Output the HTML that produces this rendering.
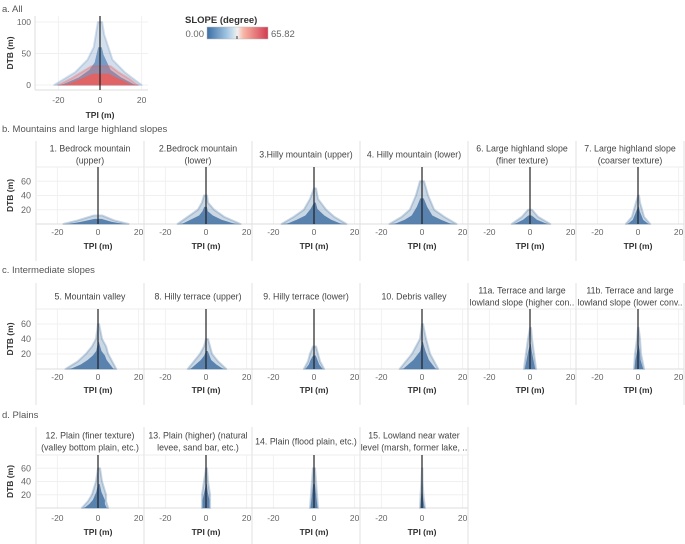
<!DOCTYPE html>
<html><head><meta charset="utf-8"><style>
html,body{margin:0;padding:0;background:#fff;}
svg{display:block;font-family:"Liberation Sans","DejaVu Sans",sans-serif;}
</style></head><body>
<svg id="chart" width="685" height="544" viewBox="0 0 685 544" xmlns="http://www.w3.org/2000/svg">
<defs>
<linearGradient id="slopeGrad" x1="0" x2="1" y1="0" y2="0">
<stop offset="0" stop-color="#3a6ea5"/><stop offset="0.35" stop-color="#a9cbe6"/><stop offset="0.5" stop-color="#f0f0f0"/><stop offset="0.6" stop-color="#f8b4a4"/><stop offset="1" stop-color="#d23c50"/>
</linearGradient>
</defs>
<text x="2" y="12" font-size="9.5" fill="#555">a. All</text>
<text x="2" y="132" font-size="9.5" fill="#555">b. Mountains and large highland slopes</text>
<text x="2" y="273" font-size="9.5" fill="#555">c. Intermediate slopes</text>
<text x="2" y="418" font-size="9.5" fill="#555">d. Plains</text>
<g>
<text x="185" y="23" font-size="9.5" font-weight="bold" fill="#333">SLOPE (degree)</text>
<text x="204" y="37" font-size="9.5" fill="#666" text-anchor="end">0.00</text>
<rect x="207" y="27" width="61" height="12" fill="url(#slopeGrad)" stroke="#bbb" stroke-width="0.5"/>
<line x1="237" y1="36" x2="237" y2="39" stroke="#333" stroke-width="1"/>
<text x="271" y="37" font-size="9.5" fill="#666">65.82</text>
</g>
<g id="plots"></g>
</svg>
<script>
// Envelope data: DTB levels and TPI extents (left/right) per panel
const levelsB1=[0,5,12], leftB1=[-17,-10,-2], rightB1=[15,8,2];
const levelsB2=[0,10,20,30,40], leftB2=[-14,-9,-4,-2,-1], rightB2=[17,9,4,1,0.5];
const levelsB3=[0,10,20,35,50], leftB3=[-16,-10,-5,-2,0], rightB3=[16,10,6,2,1];
const levelsB4=[0,10,20,40,60], leftB4=[-16,-10,-6,-3,-1], rightB4=[17,11,6,3,1];
const levelsB6=[0,10,20], leftB6=[-9,-4,-1], rightB6=[10,4,1];
const levelsB7=[0,10,30,40], leftB7=[-6,-3,-1,0], rightB7=[6,3,1,0.5];
const levelsC5=[0,10,20,30,40,60], leftC5=[-16,-10,-6,-3,-1,0], rightC5=[9,7,5,4,2,0.5];
const levelsC8=[0,10,20,30,40], leftC8=[-9,-6,-3,-1,0], rightC8=[10,6,3,2,1];
const levelsC9=[0,10,20,30], leftC9=[-5,-3,-2,-0.5], rightC9=[5,3,2,1];
const levelsC10=[0,10,20,30,40,60], leftC10=[-11,-8,-5,-3,-1,0], rightC10=[8,6,4,3,2,0.5];
const levelsC11a=[0,20,40,55], leftC11a=[-3,-2,-1,0], rightC11a=[3,2,1,0.5];
const levelsC11b=[0,20,40,55], leftC11b=[-2,-1.5,-0.5,0], rightC11b=[3,1.5,1,0.3];
const levelsD12=[0,10,20,40,60], leftD12=[-8,-5,-3,-1,0], rightD12=[5,4,4,2,1];
const levelsD13=[0,20,40,60], leftD13=[-2,-2,-1,0], rightD13=[2,2,1,0.5];
const levelsD14=[0,20,40,60], leftD14=[-2,-1.5,-1,-0.5], rightD14=[2,1.5,1,0.5];
const levelsD15=[0,20,40,60], leftD15=[-1,-0.7,-0.3,0], rightD15=[1.5,0.7,0.3,0.2];
// Panel a: all data, blue (low slope) and red (high slope) envelopes
const levelsAllBlue=[0,20,40,60,80,100], leftAllBlue=[-22,-12,-6,-3,-2,-1], rightAllBlue=[20,12,6,4,2,1];
const levelsAllRed=[0,10,20,30], leftAllRed=[-20,-14,-9,-4], rightAllRed=[18,14,9,5];
const xTicks=[-20,0,20], yTicksRow=[20,40,60], yTicksAll=[0,50,100];
const titlesB=[["1. Bedrock mountain","(upper)"],["2.Bedrock mountain","(lower)"],["3.Hilly mountain (upper)"],["4. Hilly mountain (lower)"],["6. Large highland slope","(finer texture)"],["7. Large highland slope","(coarser texture)"]];
const titlesC=[["5. Mountain valley"],["8. Hilly terrace (upper)"],["9. Hilly terrace (lower)"],["10. Debris valley"],["11a. Terrace and large","lowland slope (higher con.."],["11b. Terrace and large","lowland slope (lower conv.."]];
const titlesD=[["12. Plain (finer texture)","(valley bottom plain, etc.)"],["13. Plain (higher) (natural","levee, sand bar, etc.)"],["14. Plain (flood plain, etc.)"],["15. Lowland near water","level (marsh, former lake, .."]];
const dataB=[[levelsB1,leftB1,rightB1],[levelsB2,leftB2,rightB2],[levelsB3,leftB3,rightB3],[levelsB4,leftB4,rightB4],[levelsB6,leftB6,rightB6],[levelsB7,leftB7,rightB7]];
const dataC=[[levelsC5,leftC5,rightC5],[levelsC8,leftC8,rightC8],[levelsC9,leftC9,rightC9],[levelsC10,leftC10,rightC10],[levelsC11a,leftC11a,rightC11a],[levelsC11b,leftC11b,rightC11b]];
const dataD=[[levelsD12,leftD12,rightD12],[levelsD13,leftD13,rightD13],[levelsD14,leftD14,rightD14],[levelsD15,leftD15,rightD15]];

const NS="http://www.w3.org/2000/svg";
const root=document.getElementById('plots');
function mk(tag,attrs,parent,text){const e=document.createElementNS(NS,tag);for(const k in attrs)e.setAttribute(k,attrs[k]);if(text!==undefined)e.textContent=text;(parent||root).appendChild(e);return e;}
function envPath(lv,L,R,sx,sy){let p=[];for(let i=0;i<lv.length;i++)p.push(sx(L[i])+','+sy(lv[i]));for(let i=lv.length-1;i>=0;i--)p.push(sx(R[i])+','+sy(lv[i]));return 'M'+p.join('L')+'Z';}
function drawEnv(g,lv,L,R,sx,sy,color,name){
  const o=mk('path',{d:envPath(lv,L,R,sx,sy),fill:color,'fill-opacity':0.3,stroke:color,'stroke-opacity':0.3,'stroke-width':2,'stroke-linejoin':'round'},g);
  
  
  const Li=L.map(v=>v*0.85),Ri=R.map(v=>v*0.85),lvi=lv.map(v=>v*0.6);
  const c=mk('path',{d:envPath(lvi,Li,Ri,sx,sy),fill:color,'fill-opacity':0.9},g);
  
  
}
function row(titles,data,hTop,hBot,pTop,pBot,tickY,labY,rowName){
  const sy=v=>pBot-(v/80)*(pBot-pTop);
  const n=titles.length;
  const yt=mk('text',{x:0,y:0,'font-size':8.5,'font-weight':'bold',fill:'#333','text-anchor':'middle',transform:`translate(13,${(pTop+pBot)/2}) rotate(-90)`},root,'DTB (m)');
  
  
  yTicksRow.forEach(t=>{const e=mk('text',{x:31,y:sy(t)+3,'font-size':9,fill:'#666','text-anchor':'end'},root,String(t));
    
    });
  for(let i=0;i<n;i++){
    const x0=36+i*108,x1=x0+108;
    const sx=v=>x0+62+v*2.03;
    const g=mk('g',{});
    
    
    mk('line',{x1:x0,y1:hTop,x2:x0,y2:labY+12,stroke:'#e0e0e0','stroke-width':1},g);
    mk('line',{x1:x1,y1:hTop,x2:x1,y2:labY+12,stroke:'#e0e0e0','stroke-width':1},g);
    mk('line',{x1:x0,y1:hBot,x2:x1,y2:hBot,stroke:'#ececec','stroke-width':1},g);
    yTicksRow.forEach(t=>mk('line',{x1:x0,y1:sy(t),x2:x1,y2:sy(t),stroke:'#f0f0f0','stroke-width':1},g));
    xTicks.forEach(t=>mk('line',{x1:sx(t),y1:pTop,x2:sx(t),y2:pBot,stroke:'#f0f0f0','stroke-width':1},g));
    mk('line',{x1:x0,y1:pBot,x2:x1,y2:pBot,stroke:'#ddd','stroke-width':1},g);
    const t=titles[i];
    const cy=(hTop+hBot)/2;
    t.forEach((s,k)=>{const e=mk('text',{x:(x0+x1)/2,y:cy+3.5+(k-(t.length-1)/2)*12,'font-size':8.8,fill:'#444','text-anchor':'middle',textLength:undefined},g,s);
      e.removeAttribute('textLength');
      
      });
    const d=data[i];
    drawEnv(g,d[0],d[1],d[2],sx,sy,'#4e79a7','scatter');
    const vl=mk('line',{x1:sx(0),y1:pTop,x2:sx(0),y2:pBot,stroke:'#222','stroke-width':1.2},g);
    
    
    xTicks.forEach(v=>{const e=mk('text',{x:sx(v),y:tickY,'font-size':8.5,fill:'#666','text-anchor':'middle'},g,String(v));
      
      });
    const xl=mk('text',{x:sx(0),y:labY,'font-size':8.5,'font-weight':'bold',fill:'#333','text-anchor':'middle'},g,'TPI (m)');
    
    
  }
}
// Panel a
(function(){
  const sx=v=>100+v*2.08, sy=v=>85-v*0.63;
  const g=mk('g',{});
  
  
  yTicksAll.forEach(t=>mk('line',{x1:35,y1:sy(t),x2:148,y2:sy(t),stroke:'#f0f0f0'},g));
  xTicks.forEach(t=>mk('line',{x1:sx(t),y1:16,x2:sx(t),y2:90,stroke:'#f0f0f0'},g));
  mk('line',{x1:35,y1:16,x2:35,y2:90,stroke:'#ddd'},g);
  mk('line',{x1:35,y1:90,x2:148,y2:90,stroke:'#ddd'},g);
  drawEnv(g,levelsAllBlue,leftAllBlue,rightAllBlue,sx,sy,'#6c94c0','all-low-slope');
  drawEnv(g,levelsAllRed,leftAllRed,rightAllRed,sx,sy,'#e8605f','all-high-slope');
  const vl=mk('line',{x1:sx(0),y1:16,x2:sx(0),y2:90,stroke:'#222','stroke-width':1.2},g);
  
  
  yTicksAll.forEach(t=>{const e=mk('text',{x:31,y:sy(t)+3,'font-size':8.5,fill:'#666','text-anchor':'end'},g,String(t));
    
    });
  xTicks.forEach(t=>{const e=mk('text',{x:sx(t),y:103,'font-size':8.5,fill:'#666','text-anchor':'middle'},g,String(t));
    
    });
  const xl=mk('text',{x:sx(0),y:118,'font-size':8.5,'font-weight':'bold',fill:'#333','text-anchor':'middle'},g,'TPI (m)');
  
  
  const yl=mk('text',{x:0,y:0,'font-size':8.5,'font-weight':'bold',fill:'#333','text-anchor':'middle',transform:'translate(13,53) rotate(-90)'},g,'DTB (m)');
  
  
})();
row(titlesB,dataB,141,167,167,224,235,249,'row-b');
row(titlesC,dataC,283,309,309,369,380,393,'row-c');
row(titlesD,dataD,427,455,455,508,521,535,'row-d');
</script>
</body></html>
